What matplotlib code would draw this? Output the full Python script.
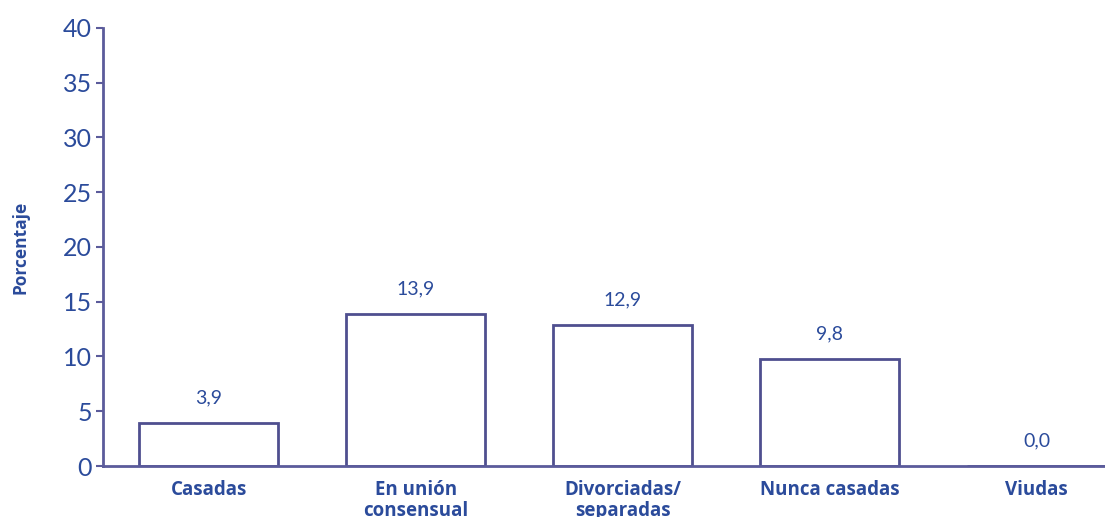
import matplotlib.pyplot as plt
import numpy as np

# data
categories = ['Casadas', 'En unión\nconsensual', 'Divorciadas/\nseparadas', 'Nunca casadas', 'Viudas']
values = [3.9, 13.9, 12.9, 9.8, 0.0]
value_labels = ['3,9', '13,9', '12,9', '9,8', '0,0']
yticks = [0, 5, 10, 15, 20, 25, 30, 35, 40]

axis_color = '#5b5b9b'
text_color = '#2b4b9b'
edge_color = '#4f4f8f'

fig = plt.figure(figsize=(11.05, 5.17), dpi=100)
ax = fig.add_axes([0.0932, 0.0986, 0.9068, 0.8474])

x = np.arange(len(categories))
ax.bar(x, values, width=0.67, facecolor='white', edgecolor=edge_color, linewidth=2)

for xi, v, lab in zip(x, values, value_labels):
    ax.annotate(lab, (xi, v), xytext=(0, 12), textcoords='offset points',
                ha='center', va='bottom', color=text_color, fontsize=14,
                family='Lato')

ax.set_xlim(-0.51, 4.33)
ax.set_ylim(0, 40)
ax.set_yticks(yticks)
ax.set_yticklabels([str(t) for t in yticks], family='Lato', fontsize=18, color=text_color)
ax.set_xticks(x)
ax.set_xticklabels(categories, family='Open Sans', fontweight='bold', fontsize=13.5,
                   color=text_color, linespacing=1.1, va='top')

for s in ['top', 'right']:
    ax.spines[s].set_visible(False)
for s in ['left', 'bottom']:
    ax.spines[s].set_color(axis_color)
    ax.spines[s].set_linewidth(2)

ax.tick_params(axis='y', length=5, width=1.5, color=axis_color, pad=3)
ax.tick_params(axis='x', length=0, pad=10)

ax.set_ylabel('Porcentaje', family='Open Sans', fontweight='bold', fontsize=12.5,
              color=text_color)
ax.yaxis.set_label_coords(-0.073, 0.5)

fig.savefig('out.png', dpi=100)
